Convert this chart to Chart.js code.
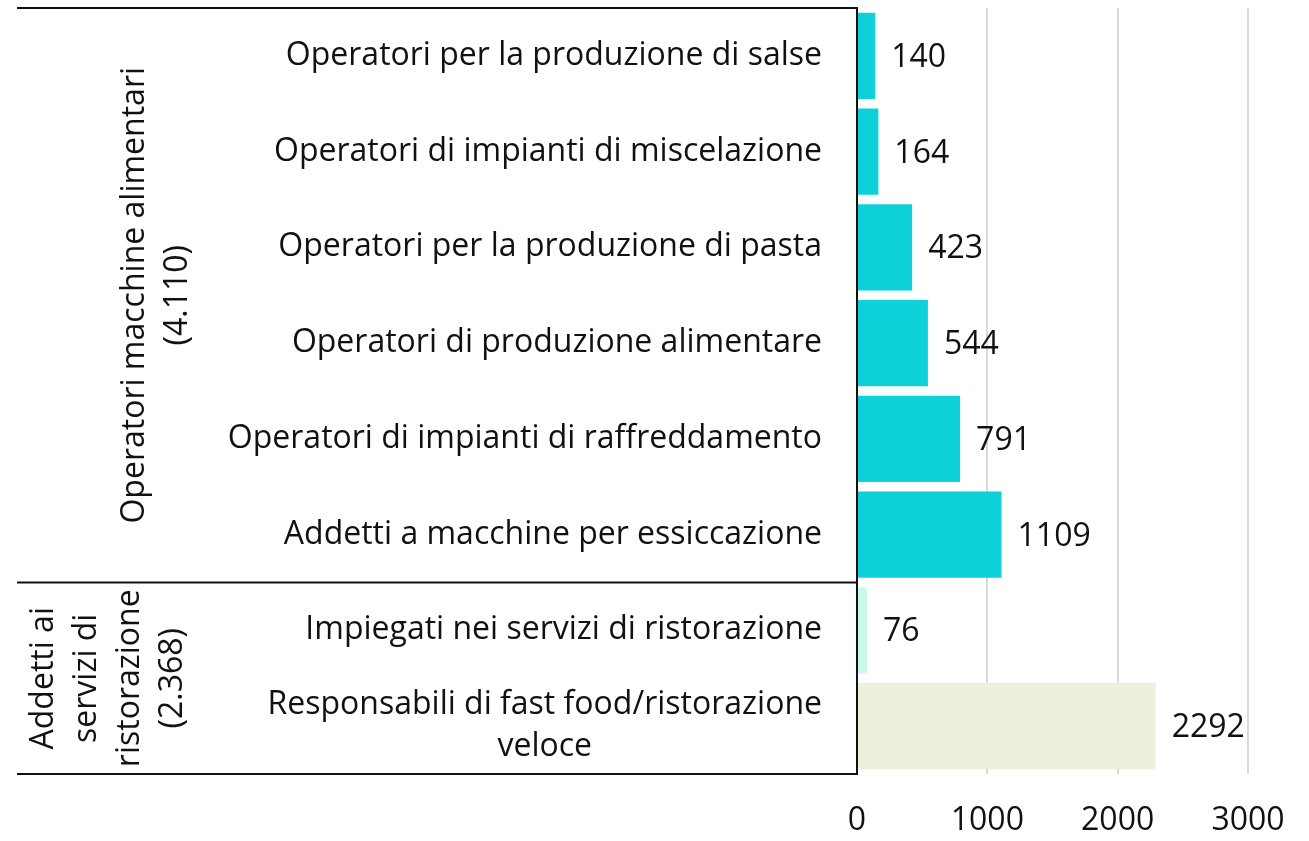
<!DOCTYPE html>
<html>
<head>
<meta charset="utf-8">
<script src="https://cdn.jsdelivr.net/npm/chart.js@4"></script>
<style>
  html, body { margin: 0; padding: 0; background: #fff; }
  #wrap { width: 1309px; height: 841px; }
</style>
</head>
<body>
<div id="wrap"><canvas id="chart"></canvas></div>
<script>
const categories = [
  'Operatori per la produzione di salse',
  'Operatori di impianti di miscelazione',
  'Operatori per la produzione di pasta',
  'Operatori di produzione alimentare',
  'Operatori di impianti di raffreddamento',
  'Addetti a macchine per essiccazione',
  'Impiegati nei servizi di ristorazione',
  ['Responsabili di fast food/ristorazione', 'veloce']
];
const values = [140, 164, 423, 544, 791, 1109, 76, 2292];
const barColors = ['#0dd0d9', '#0dd0d9', '#0dd0d9', '#0dd0d9', '#0dd0d9', '#0dd0d9', '#cbf8ec', '#ecf1db'];

const groupLabels = [
  ['Operatori macchine alimentari', '(4.110)'],
  ['Addetti ai', 'servizi di', 'ristorazione', '(2.368)']
];
const groupSizes = [6, 2];
const xTicks = [0, 1000, 2000, 3000];

const FONT = '"Open Sans", "Noto Sans", sans-serif';

const valueLabels = {
  id: 'valueLabels',
  afterDatasetsDraw: chart => {
    const ctx = chart.ctx;
    const meta = chart.getDatasetMeta(0);
    ctx.save();
    ctx.font = '32px ' + FONT;
    ctx.fillStyle = '#111';
    ctx.textAlign = 'left';
    ctx.textBaseline = 'middle';
    meta.data.forEach((bar, i) => {
      ctx.fillText(String(values[i]), bar.x + 16, bar.y + 2);
    });
    ctx.restore();
  }
};

// category labels: right-aligned block, lines centred inside the block
const categoryLabels = {
  id: 'categoryLabels',
  afterDraw: chart => {
    const ctx = chart.ctx;
    const y = chart.scales.y;
    const right = chart.chartArea.left - 35;
    const lh = 42;
    ctx.save();
    ctx.font = '32px ' + FONT;
    ctx.fillStyle = '#111';
    ctx.textBaseline = 'middle';
    categories.forEach((lab, i) => {
      const lines = Array.isArray(lab) ? lab : [lab];
      const cy = y.getPixelForValue(i);
      if (lines.length === 1) {
        ctx.textAlign = 'right';
        ctx.fillText(lines[0], right, cy);
        return;
      }
      const w = Math.max(...lines.map(t => ctx.measureText(t).width));
      ctx.textAlign = 'center';
      lines.forEach((t, k) => {
        ctx.fillText(t, right - w / 2, cy + (k - (lines.length - 1) / 2) * lh);
      });
    });
    ctx.restore();
  }
};

const groupBoxes = {
  id: 'groupBoxes',
  afterDraw: chart => {
    const ctx = chart.ctx;
    const y = chart.scales.y;
    const area = chart.chartArea;
    const slot = (area.bottom - area.top) / categories.length;
    const left = 17;
    const centers = [156, 108];
    ctx.save();
    ctx.strokeStyle = '#111';
    ctx.lineWidth = 2;
    let start = 0;
    const edges = [area.top];
    groupSizes.forEach(n => {
      start += n;
      edges.push(y.getPixelForValue(start - 1) + slot / 2);
    });
    edges.forEach(e => {
      ctx.beginPath();
      ctx.moveTo(left, e);
      ctx.lineTo(area.left, e);
      ctx.stroke();
    });
    ctx.beginPath();
    ctx.moveTo(area.left, area.top - 1);
    ctx.lineTo(area.left, area.bottom + 1);
    ctx.stroke();

    ctx.font = '32px ' + FONT;
    ctx.fillStyle = '#111';
    ctx.textAlign = 'center';
    ctx.textBaseline = 'middle';
    const lh = 43;
    groupLabels.forEach((lines, g) => {
      const cy = (edges[g] + edges[g + 1]) / 2;
      ctx.save();
      ctx.translate(centers[g], cy);
      ctx.rotate(-Math.PI / 2);
      lines.forEach((t, k) => {
        ctx.fillText(t, 0, (k - (lines.length - 1) / 2) * lh);
      });
      ctx.restore();
    });
    ctx.restore();
  }
};

new Chart(document.getElementById('chart'), {
  type: 'bar',
  data: {
    labels: categories,
    datasets: [{
      data: values,
      backgroundColor: barColors,
      borderWidth: 0,
      barPercentage: 0.9,
      categoryPercentage: 1
    }]
  },
  options: {
    indexAxis: 'y',
    responsive: true,
    maintainAspectRatio: false,
    animation: false,
    layout: { padding: { left: 0, top: 8, right: 61, bottom: 3 } },
    plugins: {
      legend: { display: false },
      tooltip: { enabled: false }
    },
    scales: {
      x: {
        min: 0,
        max: 3000,
        afterBuildTicks: scale => { scale.ticks = xTicks.map(v => ({ value: v })); },
        afterFit: scale => {
          scale.height = 64;
          scale.paddingLeft = 0;
          scale.paddingRight = 0;
        },
        grid: { color: '#d9d9d9', lineWidth: 2, drawTicks: false },
        border: { display: false },
        ticks: {
          color: '#111',
          padding: 28,
          autoSkip: false,
          font: { family: FONT, size: 32 },
          maxRotation: 0,
          callback: v => String(v)
        }
      },
      y: {
        afterFit: scale => {
          scale.width = 857;
          scale.paddingTop = 0;
          scale.paddingBottom = 0;
        },
        grid: { display: false, drawTicks: false },
        border: { display: false },
        ticks: { display: false }
      }
    }
  },
  plugins: [valueLabels, categoryLabels, groupBoxes]
});
</script>
</body>
</html>
